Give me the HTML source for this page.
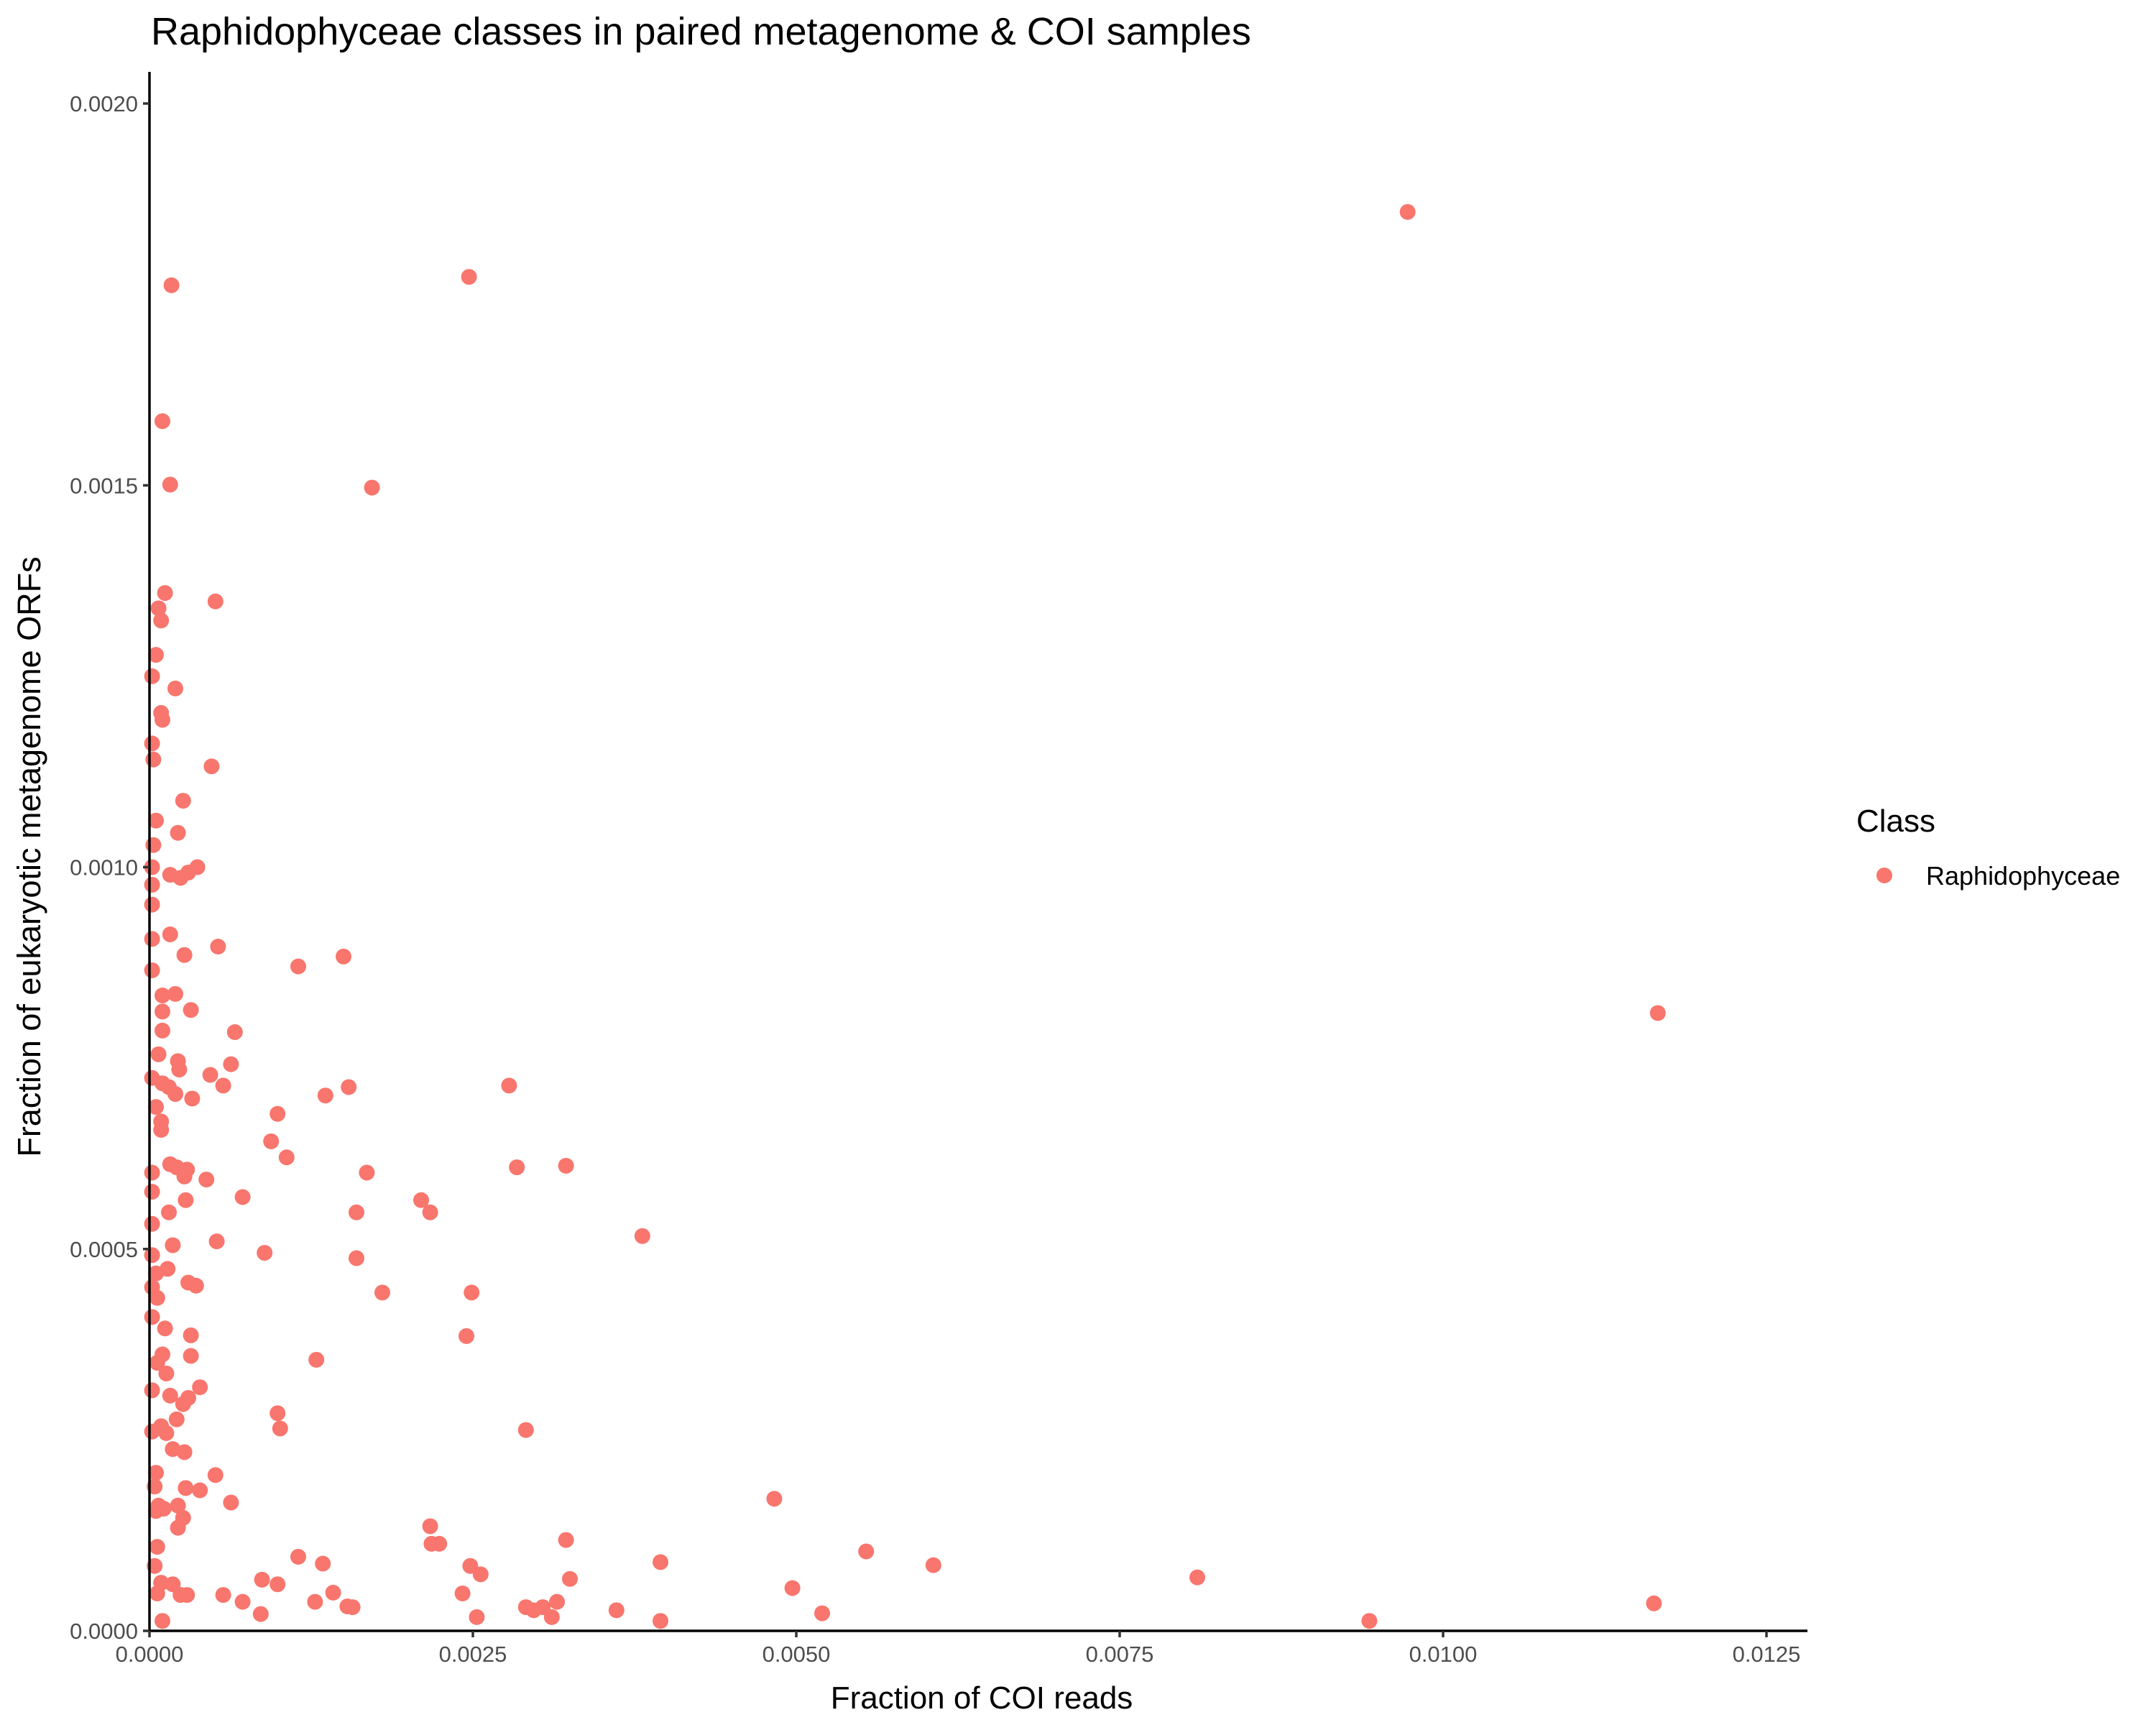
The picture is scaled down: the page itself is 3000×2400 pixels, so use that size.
<!DOCTYPE html>
<html><head><meta charset="utf-8"><style>
html,body{margin:0;padding:0;background:#fff}
svg{display:block;font-family:"Liberation Sans",Arial,sans-serif}
</style></head><body>
<svg id="chart" width="3000" height="2400" viewBox="0 0 3000 2400">
<text x="210" y="62" font-size="54" fill="#000">Raphidophyceae classes in paired metagenome &amp; COI samples</text>
<g id="points"></g>
<g id="axes"></g>
<text x="1366" y="2377" font-size="44" text-anchor="middle" fill="#000">Fraction of COI reads</text>
<text transform="translate(56,1192) rotate(-90)" font-size="45" text-anchor="middle" fill="#000">Fraction of eukaryotic metagenome ORFs</text>
<g>
<text x="2583" y="1157" font-size="44" fill="#000">Class</text>
<circle cx="2622" cy="1218" r="11" fill="#F8766D"/>
<text x="2680" y="1231" font-size="36" fill="#000">Raphidophyceae</text>
</g>
</svg>
<script>
const xVals=[0.009726,0.01166,0.01163,0.00943,0.0081,0.00606,0.00554,0.0052,0.00497,0.00483,0.00395,0.00395,0.00361,0.00381,0.00322,0.00322,0.00325,0.00315,0.00311,0.00304,0.00297,0.00291,0.00291,0.00284,0.00278,0.00247,0.00249,0.00245,0.00248,0.00256,0.00242,0.00253,0.00217,0.00218,0.00224,0.0021,0.00217,0.00172,0.0015,0.00154,0.00136,0.00168,0.0016,0.0016,0.0018,0.00129,0.00115,0.00099,0.00094,0.00106,0.00089,0.00099,0.00101,0.00115,0.00134,0.00128,0.00142,0.00153,0.00157,0.00087,0.00099,0.00086,0.00072,0.00057,0.00072,0.00066,0.00063,0.00057,0.00047,0.00053,0.00051,0.00048,0.00044,0.00052,0.00036,0.00039,0.00051,0.00063,0.00039,
0.00017,0.0001,0.00016,0.00012,0.00007,0.00009,0.00005,0.00002,0.0002,0.00009,0.0001,0.00002,0.00003,0.00026,0.00005,0.00022,0.00003,0.00037,0.0003,0.00024,0.00016,0.00002,0.00002,0.00002,0.00016,0.00002,0.00027,0.00002,0.0001,0.0002,0.00032,0.0001,0.0001,0.00007,0.00022,0.00023,0.00002,0.0001,0.00015,0.0002,0.00033,0.00005,0.00009,0.00009,0.00016,0.00021,0.00029,0.00027,0.00002,0.00002,0.00028,0.00015,0.00002,0.00018,0.00002,0.00014,0.00005,0.0003,0.00002,0.00006,0.00002,0.00012,0.00032,0.0001,0.00032,0.00006,0.00013,0.00002,0.00016,0.0003,0.00026,0.00021,0.00009,0.00002,0.00013,0.00018,0.00027,0.00005,0.00028,0.00004,0.00022,0.00007,0.00011,0.00005,0.00026,0.00022,0.00006,0.00004,0.00009,0.00018,0.00006,0.00024,0.00029,0.0001];
const yVals=[0.001858,0.000809,0.000036,0.000013,0.00007,0.000086,0.000104,0.000023,0.000056,0.000173,0.00009,0.000013,0.000027,0.000517,0.000609,0.000119,0.000068,0.000038,0.000018,0.000031,0.000027,0.000031,0.000263,0.000607,0.000714,0.001773,0.000443,0.000386,0.000085,0.000074,0.000049,0.000018,0.000137,0.000114,0.000114,0.000564,0.000548,0.001497,0.000883,0.000712,0.000701,0.0006,0.000548,0.000488,0.000443,0.000355,0.00087,0.000677,0.000641,0.00062,0.000495,0.000285,0.000265,0.000097,0.000088,0.000038,0.00005,0.000032,0.000031,0.000067,0.000061,0.000022,0.000038,0.000047,0.000568,0.000784,0.000742,0.000714,0.000728,0.000896,0.001348,0.001132,0.000591,0.00051,0.000452,0.000319,0.000204,0.000168,0.000184,
0.001762,0.001584,0.001501,0.001359,0.001339,0.001323,0.001278,0.00125,0.001234,0.001202,0.001193,0.001162,0.001141,0.001087,0.001061,0.001045,0.001029,0.001,0.000993,0.000986,0.00099,0.001,0.000977,0.000951,0.000912,0.000906,0.000885,0.000865,0.000832,0.000834,0.000813,0.000811,0.000786,0.000755,0.000746,0.000735,0.000724,0.000717,0.000712,0.000703,0.000697,0.000686,0.000667,0.000656,0.000611,0.000607,0.000604,0.000595,0.0006,0.000575,0.000564,0.000548,0.000533,0.000505,0.000492,0.000474,0.000468,0.000456,0.00045,0.000436,0.000411,0.000396,0.000387,0.000362,0.00036,0.000351,0.000337,0.000315,0.000308,0.000305,0.000297,0.000277,0.000268,0.000261,0.000259,0.000238,0.000234,0.000207,0.000187,0.000189,0.000164,0.000164,0.00016,0.000157,0.000148,0.000135,0.00011,0.000085,0.000063,0.000061,0.000049,0.000047,0.000047,0.000013];
const xTicks=[0,0.0025,0.005,0.0075,0.01,0.0125];
const xTickLabels=["0.0000","0.0025","0.0050","0.0075","0.0100","0.0125"];
const yTicks=[0,0.0005,0.001,0.0015,0.002];
const yTickLabels=["0.0000","0.0005","0.0010","0.0015","0.0020"];

const X0=208,XPX=2250/0.0125,Y0=2269,YPX=(2269-144)/0.002;
function sx(v){return X0+v*XPX;}
function sy(v){return Y0-v*YPX;}
const NS="http://www.w3.org/2000/svg";
const pts=document.getElementById('points');
for(let i=0;i<xVals.length;i++){
  const c=document.createElementNS(NS,'circle');
  c.setAttribute('cx',sx(xVals[i]));c.setAttribute('cy',sy(yVals[i]));
  c.setAttribute('r',11);c.setAttribute('fill','#F8766D');
  
  
  pts.appendChild(c);
}
const ax=document.getElementById('axes');
function el(tag,attrs,txt){const e=document.createElementNS(NS,tag);for(const k in attrs)e.setAttribute(k,attrs[k]);if(txt!==undefined)e.textContent=txt;ax.appendChild(e);return e;}
const xl=el('line',{x1:X0,y1:Y0,x2:2515,y2:Y0,stroke:'#000','stroke-width':3.5});


const yl=el('line',{x1:X0,y1:Y0,x2:X0,y2:100,stroke:'#000','stroke-width':3.5});


xTicks.forEach((t,i)=>{
  const tk=el('line',{x1:sx(t),y1:Y0,x2:sx(t),y2:Y0+9,stroke:'#333','stroke-width':3.5});
  
  
  const lb=el('text',{x:sx(t),y:Y0+43,'font-size':31,'text-anchor':'middle',fill:'#4d4d4d'},xTickLabels[i]);
  
  
});
yTicks.forEach((t,i)=>{
  const tk=el('line',{x1:X0-9,y1:sy(t),x2:X0,y2:sy(t),stroke:'#333','stroke-width':3.5});
  
  
  const lb=el('text',{x:X0-16,y:sy(t)+11,'font-size':31,'text-anchor':'end',fill:'#4d4d4d'},yTickLabels[i]);
  
  
});
</script>
</body></html>
